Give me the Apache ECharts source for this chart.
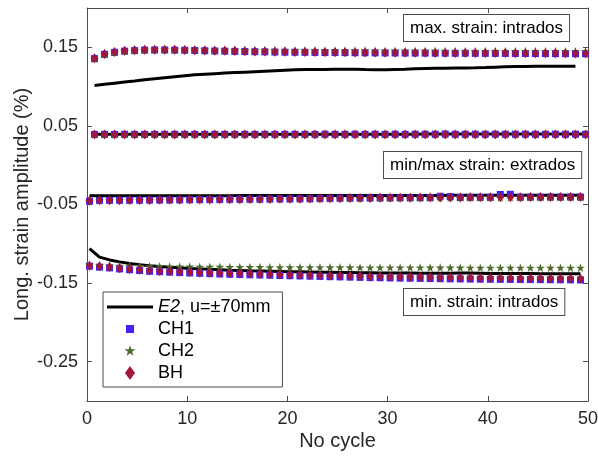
<!DOCTYPE html>
<html>
<head>
<meta charset="utf-8">
<script src="https://cdn.jsdelivr.net/npm/echarts@6/dist/echarts.min.js"></script>
<style>
  html, body { margin: 0; padding: 0; background: #fff; }
  #chart { width: 598px; height: 458px; }
</style>
</head>
<body>
<div id="chart"></div>
<script>
// Cycle positions: maxima a quarter past each cycle start, minima three quarters
const cycleMax = [0.75, 1.75, 2.75, 3.75, 4.75, 5.75, 6.75, 7.75, 8.75, 9.75,
  10.75, 11.75, 12.75, 13.75, 14.75, 15.75, 16.75, 17.75, 18.75, 19.75,
  20.75, 21.75, 22.75, 23.75, 24.75, 25.75, 26.75, 27.75, 28.75, 29.75,
  30.75, 31.75, 32.75, 33.75, 34.75, 35.75, 36.75, 37.75, 38.75, 39.75,
  40.75, 41.75, 42.75, 43.75, 44.75, 45.75, 46.75, 47.75, 48.75, 49.75];
const cycleMin = [0.25, 1.25, 2.25, 3.25, 4.25, 5.25, 6.25, 7.25, 8.25, 9.25,
  10.25, 11.25, 12.25, 13.25, 14.25, 15.25, 16.25, 17.25, 18.25, 19.25,
  20.25, 21.25, 22.25, 23.25, 24.25, 25.25, 26.25, 27.25, 28.25, 29.25,
  30.25, 31.25, 32.25, 33.25, 34.25, 35.25, 36.25, 37.25, 38.25, 39.25,
  40.25, 41.25, 42.25, 43.25, 44.25, 45.25, 46.25, 47.25, 48.25, 49.25];

const xTicks = [0, 10, 20, 30, 40, 50];
const yTicks = [-0.25, -0.15, -0.05, 0.05, 0.15];

// E2 simulation, u = ±70 mm
const e2MaxIntrados = [0.1015, 0.1030, 0.1044, 0.1058, 0.1072, 0.1087, 0.1100, 0.1113, 0.1126, 0.1138,
  0.1150, 0.1158, 0.1165, 0.1172, 0.1178, 0.1184, 0.1190, 0.1196, 0.1202, 0.1208,
  0.1213, 0.1216, 0.1218, 0.1218, 0.1220, 0.1221, 0.1220, 0.1216, 0.1214, 0.1215,
  0.1219, 0.1222, 0.1226, 0.1229, 0.1232, 0.1235, 0.1237, 0.1238, 0.1240, 0.1243,
  0.1247, 0.1251, 0.1255, 0.1257, 0.1258, 0.1258, 0.1259, 0.1259, 0.1259];
const e2MaxExtrados = [0.0393, 0.0393, 0.0393, 0.0394, 0.0394, 0.0394, 0.0394, 0.0394, 0.0394, 0.0394,
  0.0394, 0.0394, 0.0394, 0.0395, 0.0395, 0.0395, 0.0395, 0.0395, 0.0395, 0.0395,
  0.0395, 0.0395, 0.0395, 0.0395, 0.0395, 0.0395, 0.0395, 0.0395, 0.0395, 0.0395,
  0.0395, 0.0395, 0.0395, 0.0396, 0.0396, 0.0396, 0.0396, 0.0396, 0.0396, 0.0396,
  0.0396, 0.0396, 0.0396, 0.0396, 0.0396, 0.0396, 0.0396, 0.0396, 0.0396, 0.0396];
const e2MinExtrados = [-0.0390, -0.0390, -0.0390, -0.0390, -0.0390, -0.0389, -0.0389, -0.0389, -0.0389, -0.0389,
  -0.0388, -0.0388, -0.0388, -0.0388, -0.0388, -0.0387, -0.0387, -0.0387, -0.0387, -0.0387,
  -0.0386, -0.0386, -0.0386, -0.0386, -0.0386, -0.0385, -0.0385, -0.0385, -0.0385, -0.0385,
  -0.0384, -0.0384, -0.0384, -0.0384, -0.0384, -0.0384, -0.0383, -0.0383, -0.0383, -0.0383,
  -0.0383, -0.0383, -0.0382, -0.0382, -0.0382, -0.0382, -0.0382, -0.0382, -0.0382, -0.0382];
const e2MinIntrados = [-0.1060, -0.1170, -0.1205, -0.1230, -0.1250, -0.1265, -0.1278, -0.1289, -0.1298, -0.1306,
  -0.1313, -0.1319, -0.1325, -0.1330, -0.1335, -0.1339, -0.1343, -0.1346, -0.1349, -0.1352,
  -0.1355, -0.1357, -0.1359, -0.1361, -0.1363, -0.1365, -0.1366, -0.1368, -0.1369, -0.1370,
  -0.1371, -0.1372, -0.1373, -0.1374, -0.1375, -0.1376, -0.1374, -0.1372, -0.1373, -0.1375,
  -0.1377, -0.1378, -0.1378, -0.1379, -0.1379, -0.1380, -0.1380, -0.1380, -0.1381, -0.1381];

// CH1 measurements
const ch1MaxIntrados = [0.1356, 0.1411, 0.1436, 0.1451, 0.1458, 0.1464, 0.1466, 0.1466, 0.1464, 0.1462,
  0.1459, 0.1456, 0.1453, 0.1451, 0.1448, 0.1446, 0.1444, 0.1442, 0.1440, 0.1438,
  0.1437, 0.1436, 0.1435, 0.1434, 0.1433, 0.1432, 0.1431, 0.1430, 0.1429, 0.1428,
  0.1428, 0.1427, 0.1426, 0.1426, 0.1425, 0.1425, 0.1424, 0.1424, 0.1423, 0.1423,
  0.1422, 0.1422, 0.1421, 0.1421, 0.1420, 0.1420, 0.1419, 0.1419, 0.1418, 0.1418];
const ch1MaxExtrados = [0.0392, 0.0393, 0.0392, 0.0393, 0.0392, 0.0393, 0.0393, 0.0392, 0.0393, 0.0393,
  0.0393, 0.0392, 0.0393, 0.0393, 0.0393, 0.0393, 0.0392, 0.0393, 0.0393, 0.0393,
  0.0393, 0.0393, 0.0393, 0.0394, 0.0393, 0.0393, 0.0394, 0.0393, 0.0394, 0.0393,
  0.0394, 0.0393, 0.0394, 0.0394, 0.0394, 0.0397, 0.0394, 0.0394, 0.0394, 0.0394,
  0.0395, 0.0394, 0.0394, 0.0395, 0.0394, 0.0394, 0.0395, 0.0394, 0.0395, 0.0394];
const ch1MinExtrados = [-0.0458, -0.0448, -0.0447, -0.0446, -0.0445, -0.0444, -0.0443, -0.0442, -0.0441, -0.0440,
  -0.0438, -0.0437, -0.0436, -0.0435, -0.0434, -0.0433, -0.0432, -0.0431, -0.0430, -0.0429,
  -0.0428, -0.0427, -0.0426, -0.0424, -0.0422, -0.0420, -0.0419, -0.0418, -0.0417, -0.0416,
  -0.0415, -0.0414, -0.0414, -0.0413, -0.0412, -0.0395, -0.0400, -0.0411, -0.0410, -0.0410,
  -0.0409, -0.0372, -0.0370, -0.0408, -0.0407, -0.0407, -0.0406, -0.0406, -0.0405, -0.0405];
const ch1MinIntrados = [-0.1285, -0.1297, -0.1306, -0.1320, -0.1330, -0.1340, -0.1350, -0.1355, -0.1361, -0.1366,
  -0.1371, -0.1376, -0.1380, -0.1384, -0.1388, -0.1391, -0.1394, -0.1397, -0.1400, -0.1403,
  -0.1406, -0.1409, -0.1412, -0.1415, -0.1418, -0.1421, -0.1424, -0.1427, -0.1430, -0.1432,
  -0.1434, -0.1436, -0.1438, -0.1440, -0.1442, -0.1444, -0.1446, -0.1447, -0.1448, -0.1450,
  -0.1451, -0.1452, -0.1453, -0.1454, -0.1455, -0.1456, -0.1457, -0.1458, -0.1459, -0.1460];

// CH2 measurements
const ch2MaxIntrados = [0.1355, 0.1412, 0.1440, 0.1456, 0.1464, 0.1470, 0.1473, 0.1474, 0.1474, 0.1473,
  0.1472, 0.1471, 0.1470, 0.1469, 0.1468, 0.1467, 0.1466, 0.1465, 0.1464, 0.1463,
  0.1462, 0.1461, 0.1461, 0.1460, 0.1459, 0.1459, 0.1458, 0.1458, 0.1457, 0.1457,
  0.1456, 0.1456, 0.1455, 0.1455, 0.1455, 0.1454, 0.1454, 0.1454, 0.1453, 0.1453,
  0.1453, 0.1452, 0.1452, 0.1452, 0.1451, 0.1451, 0.1451, 0.1450, 0.1450, 0.1450];
const ch2MaxExtrados = [0.0390, 0.0390, 0.0391, 0.0390, 0.0390, 0.0391, 0.0390, 0.0390, 0.0391, 0.0390,
  0.0391, 0.0390, 0.0391, 0.0391, 0.0390, 0.0391, 0.0391, 0.0390, 0.0391, 0.0391,
  0.0391, 0.0391, 0.0391, 0.0391, 0.0392, 0.0391, 0.0391, 0.0392, 0.0391, 0.0392,
  0.0392, 0.0391, 0.0392, 0.0392, 0.0392, 0.0392, 0.0392, 0.0392, 0.0392, 0.0392,
  0.0393, 0.0392, 0.0392, 0.0393, 0.0392, 0.0393, 0.0393, 0.0392, 0.0393, 0.0393];
const ch2MinExtrados = [-0.0460, -0.0448, -0.0447, -0.0446, -0.0445, -0.0444, -0.0443, -0.0442, -0.0441, -0.0440,
  -0.0439, -0.0438, -0.0437, -0.0436, -0.0435, -0.0434, -0.0433, -0.0432, -0.0431, -0.0430,
  -0.0429, -0.0428, -0.0427, -0.0425, -0.0423, -0.0421, -0.0420, -0.0419, -0.0418, -0.0417,
  -0.0416, -0.0415, -0.0415, -0.0414, -0.0413, -0.0413, -0.0412, -0.0412, -0.0411, -0.0411,
  -0.0410, -0.0410, -0.0409, -0.0409, -0.0408, -0.0408, -0.0407, -0.0407, -0.0406, -0.0406];
const ch2MinIntrados = [-0.1268, -0.1273, -0.1276, -0.1279, -0.1281, -0.1283, -0.1285, -0.1286, -0.1288, -0.1289,
  -0.1290, -0.1291, -0.1292, -0.1293, -0.1294, -0.1295, -0.1296, -0.1296, -0.1297, -0.1297,
  -0.1298, -0.1298, -0.1299, -0.1299, -0.1300, -0.1300, -0.1300, -0.1301, -0.1301, -0.1301,
  -0.1302, -0.1302, -0.1302, -0.1302, -0.1303, -0.1303, -0.1303, -0.1303, -0.1304, -0.1304,
  -0.1304, -0.1304, -0.1304, -0.1305, -0.1305, -0.1305, -0.1305, -0.1305, -0.1306, -0.1306];

// BH measurements
const bhMaxIntrados = [0.1360, 0.1415, 0.1440, 0.1455, 0.1462, 0.1468, 0.1470, 0.1470, 0.1468, 0.1466,
  0.1463, 0.1460, 0.1457, 0.1455, 0.1452, 0.1450, 0.1448, 0.1446, 0.1444, 0.1442,
  0.1441, 0.1440, 0.1439, 0.1438, 0.1437, 0.1436, 0.1435, 0.1434, 0.1433, 0.1432,
  0.1432, 0.1431, 0.1430, 0.1430, 0.1429, 0.1429, 0.1428, 0.1428, 0.1427, 0.1427,
  0.1426, 0.1426, 0.1425, 0.1425, 0.1424, 0.1424, 0.1423, 0.1423, 0.1422, 0.1422];
const bhMaxExtrados = [0.0390, 0.0390, 0.0390, 0.0390, 0.0390, 0.0390, 0.0390, 0.0390, 0.0390, 0.0390,
  0.0390, 0.0390, 0.0390, 0.0390, 0.0391, 0.0390, 0.0391, 0.0391, 0.0391, 0.0391,
  0.0391, 0.0391, 0.0391, 0.0391, 0.0391, 0.0391, 0.0391, 0.0391, 0.0391, 0.0391,
  0.0391, 0.0391, 0.0391, 0.0392, 0.0391, 0.0392, 0.0391, 0.0392, 0.0392, 0.0392,
  0.0392, 0.0392, 0.0392, 0.0392, 0.0392, 0.0392, 0.0392, 0.0392, 0.0392, 0.0392];
const bhMinExtrados = [-0.0452, -0.0447, -0.0446, -0.0445, -0.0444, -0.0443, -0.0442, -0.0441, -0.0440, -0.0439,
  -0.0437, -0.0436, -0.0435, -0.0434, -0.0433, -0.0432, -0.0431, -0.0430, -0.0429, -0.0428,
  -0.0427, -0.0426, -0.0425, -0.0423, -0.0421, -0.0419, -0.0418, -0.0417, -0.0416, -0.0415,
  -0.0414, -0.0413, -0.0413, -0.0412, -0.0411, -0.0411, -0.0410, -0.0410, -0.0409, -0.0409,
  -0.0408, -0.0408, -0.0407, -0.0407, -0.0406, -0.0406, -0.0405, -0.0405, -0.0404, -0.0404];
const bhMinIntrados = [-0.1280, -0.1287, -0.1296, -0.1310, -0.1320, -0.1330, -0.1340, -0.1345, -0.1350, -0.1355,
  -0.1360, -0.1364, -0.1368, -0.1372, -0.1375, -0.1378, -0.1381, -0.1384, -0.1387, -0.1390,
  -0.1393, -0.1396, -0.1399, -0.1402, -0.1405, -0.1408, -0.1411, -0.1413, -0.1415, -0.1417,
  -0.1419, -0.1421, -0.1423, -0.1425, -0.1427, -0.1429, -0.1430, -0.1431, -0.1432, -0.1434,
  -0.1435, -0.1436, -0.1437, -0.1438, -0.1439, -0.1440, -0.1441, -0.1442, -0.1443, -0.1444];

const E2_NAME = 'E2, u=±70mm';
const FONT = '"Liberation Sans", Arial, Helvetica, sans-serif';
const AXIS_COLOR = '#4d4d4d';
const TEXT_COLOR = '#262626';

// Marker shapes (paths keep their aspect ratio when scaled)
const SQUARE = 'path://M0,0L10,0L10,10L0,10Z';
const STAR = 'path://M0,-10L2.245,-3.09L9.511,-3.09L3.633,1.18L5.878,8.09L0,3.82L-5.878,8.09L-3.633,1.18L-9.511,-3.09L-2.245,-3.09Z';
const DIAMOND = 'path://M5,0L10,7L5,14L0,7Z';

// Legend icons, padded with bare move-to points so they sit smaller in the icon box
const LEGEND_LINE = 'path://M0,0L46,0L46,3L0,3Z';
const LEGEND_SQUARE = 'path://M0,0M3,3L11,3L11,11L3,11ZM14,14';
const LEGEND_STAR = 'path://M-12,-12M0,-10L2.245,-3.09L9.511,-3.09L3.633,1.18L5.878,8.09L0,3.82L-5.878,8.09L-3.633,1.18L-9.511,-3.09L-2.245,-3.09ZM12,12';

function pairs(xs, ys) {
  return ys.map((y, i) => [xs[i], y]);
}

function e2Line(xs, ys) {
  return {
    name: E2_NAME, type: 'line', data: pairs(xs, ys),
    showSymbol: false, symbol: 'none', silent: true,
    lineStyle: { color: '#000', width: 3 }, itemStyle: { color: '#000' },
    z: 1
  };
}

function gauge(name, symbol, size, color, z, groups) {
  let data = [];
  groups.forEach(g => { data = data.concat(pairs(g[0], g[1])); });
  return {
    name, type: 'scatter', data, symbol, symbolSize: size, symbolKeepAspect: true,
    itemStyle: { color, opacity: 1 }, z, silent: true
  };
}

const chart = echarts.init(document.getElementById('chart'), null, { renderer: 'canvas' });

const baseAxis = {
  type: 'value',
  axisLine: { show: true, onZero: false, lineStyle: { color: AXIS_COLOR, width: 1 } },
  axisTick: { show: true, inside: true, length: 5, lineStyle: { color: AXIS_COLOR, width: 1 } },
  splitLine: { show: false }
};

chart.setOption({
  animation: false,
  backgroundColor: '#fff',
  grid: { left: 87, right: 10, top: 8, bottom: 57, containLabel: false, outerBoundsMode: 'none' },
  xAxis: [
    Object.assign({}, baseAxis, {
      position: 'bottom', min: 0, max: 50, interval: 10,
      name: 'No cycle', nameLocation: 'middle', nameGap: 30, nameMoveOverlap: false,
      nameTextStyle: { fontFamily: FONT, fontSize: 20, color: TEXT_COLOR },
      axisLabel: { fontFamily: FONT, fontSize: 18, color: TEXT_COLOR, margin: 9, customValues: xTicks },
      axisTick: Object.assign({}, baseAxis.axisTick, { customValues: xTicks })
    }),
    Object.assign({}, baseAxis, {
      position: 'top', min: 0, max: 50, interval: 10,
      axisLabel: { show: false },
      axisTick: Object.assign({}, baseAxis.axisTick, { customValues: xTicks })
    })
  ],
  yAxis: [
    Object.assign({}, baseAxis, {
      position: 'left', min: -0.3, max: 0.2,
      name: 'Long. strain amplitude (%)', nameLocation: 'middle', nameGap: 55, nameMoveOverlap: false,
      nameTextStyle: { fontFamily: FONT, fontSize: 20, color: TEXT_COLOR },
      axisLabel: {
        fontFamily: FONT, fontSize: 18, color: TEXT_COLOR, margin: 9, customValues: yTicks,
        formatter: v => v.toFixed(2)
      },
      axisTick: Object.assign({}, baseAxis.axisTick, { customValues: yTicks })
    }),
    Object.assign({}, baseAxis, {
      position: 'right', min: -0.3, max: 0.2,
      axisLabel: { show: false },
      axisTick: Object.assign({}, baseAxis.axisTick, { customValues: yTicks })
    })
  ],
  legend: {
    orient: 'vertical', left: 103, top: 292,
    backgroundColor: '#fff', borderColor: AXIS_COLOR, borderWidth: 1,
    padding: [6, 12, 5, 4], itemGap: 4, itemWidth: 46, itemHeight: 14,
    symbolKeepAspect: true,
    selectedMode: false,
    data: [
      { name: E2_NAME, icon: LEGEND_LINE },
      { name: 'CH1', icon: LEGEND_SQUARE },
      { name: 'CH2', icon: LEGEND_STAR },
      { name: 'BH', icon: DIAMOND }
    ],
    textStyle: {
      fontFamily: FONT, fontSize: 18, color: '#000',
      rich: { i: { fontFamily: FONT, fontSize: 18, fontStyle: 'italic', color: '#000' } }
    },
    formatter: name => name === E2_NAME ? '{i|E2}, u=±70mm' : name
  },
  graphic: [
    { type: 'text', left: 403, top: 14, z: 100,
      style: { text: 'max. strain: intrados', font: '17px ' + FONT, fill: '#000',
        backgroundColor: '#fff', borderColor: AXIS_COLOR, borderWidth: 1, padding: [5, 6, 4, 6] } },
    { type: 'text', left: 383, top: 151, z: 100,
      style: { text: 'min/max strain: extrados', font: '17px ' + FONT, fill: '#000',
        backgroundColor: '#fff', borderColor: AXIS_COLOR, borderWidth: 1, padding: [5, 6, 4, 6] } },
    { type: 'text', left: 403, top: 288, z: 100,
      style: { text: 'min. strain: intrados', font: '17px ' + FONT, fill: '#000',
        backgroundColor: '#fff', borderColor: AXIS_COLOR, borderWidth: 1, padding: [5, 6, 4, 6] } }
  ],
  series: [
    e2Line(cycleMax, e2MaxIntrados),
    e2Line(cycleMax, e2MaxExtrados),
    e2Line(cycleMin, e2MinExtrados),
    e2Line(cycleMin, e2MinIntrados),
    gauge('CH1', SQUARE, 7, '#3f22ff', 2, [
      [cycleMax, ch1MaxIntrados], [cycleMax, ch1MaxExtrados],
      [cycleMin, ch1MinExtrados], [cycleMin, ch1MinIntrados]]),
    gauge('CH2', STAR, 9, '#4e6b2c', 3, [
      [cycleMax, ch2MaxIntrados], [cycleMax, ch2MaxExtrados],
      [cycleMin, ch2MinExtrados], [cycleMin, ch2MinIntrados]]),
    gauge('BH', DIAMOND, 10, '#a0163c', 4, [
      [cycleMax, bhMaxIntrados], [cycleMax, bhMaxExtrados],
      [cycleMin, bhMinExtrados], [cycleMin, bhMinIntrados]])
  ]
});
</script>
</body>
</html>
